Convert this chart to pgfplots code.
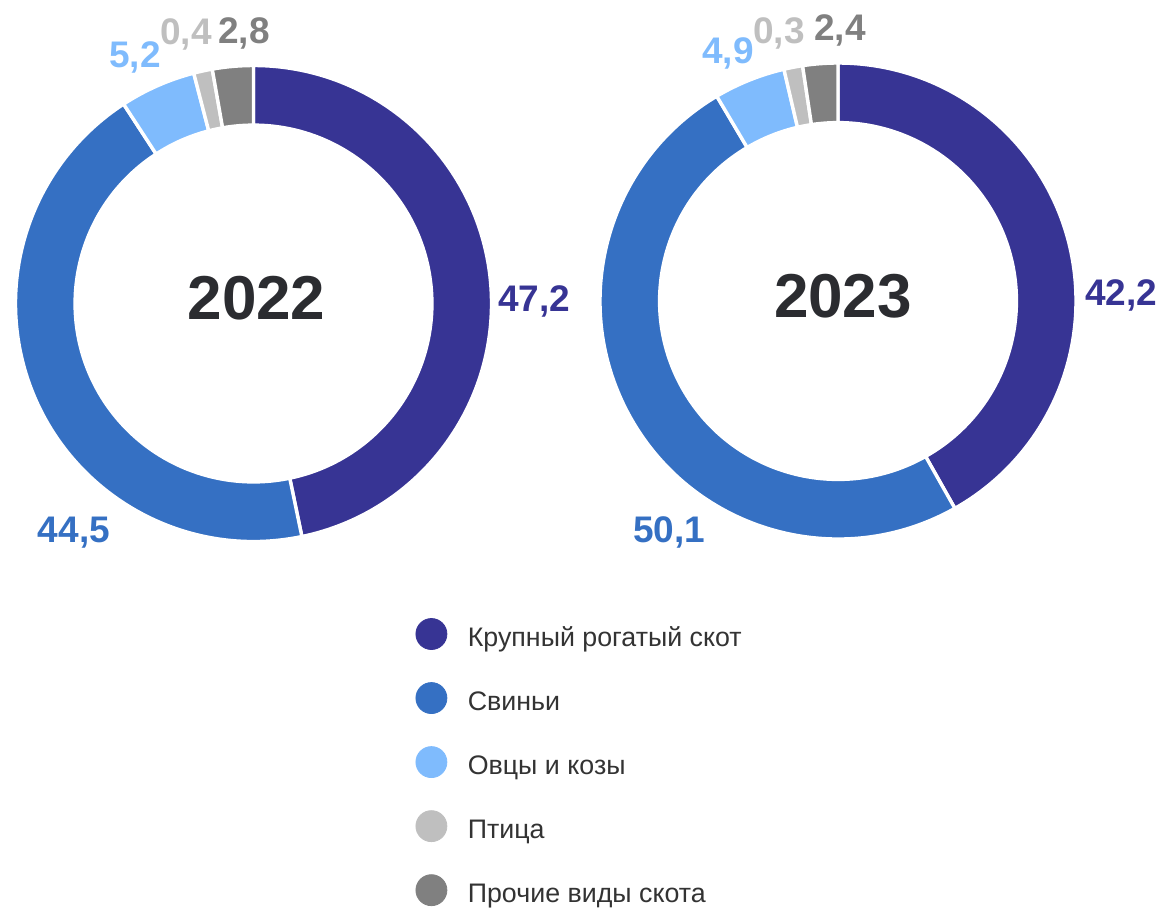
\documentclass[border=0pt]{standalone}
\usepackage{pgfplots}
\usepackage{pgfplotstable}
\pgfplotsset{compat=1.18}
\usepackage{fontspec}
\setmainfont{Liberation Sans}

\definecolor{c0}{HTML}{373494}
\definecolor{c1}{HTML}{3570C3}
\definecolor{c2}{HTML}{7FBBFD}
\definecolor{c3}{HTML}{BFBFBF}
\definecolor{c4}{HTML}{808080}
\definecolor{ctext}{HTML}{2B2C30}
\definecolor{clegend}{HTML}{333333}

% shares, percent
\pgfplotstableread{
kind  y2022 y2023
krs   47.2  42.2
svin  44.5  50.1
ovts  5.2   4.9
ptica 0.4   0.3
proch 2.8   2.4
}\shares

% tiny slices are shown at a minimum width, as in the original chart
\def\minshare{1.28}
% start/end angles of every slice, clockwise from the top
\newcommand\computeangles[2]{%
  \xdef\tot{0}%
  \pgfplotstableforeachcolumnelement{#1}\of\shares\as\val{%
    \pgfmathsetmacro\t{\tot+max(\val,\minshare)}\xdef\tot{\t}}%
  \xdef\cum{0}%
  \pgfplotstableforeachcolumnelement{#1}\of\shares\as\val{%
    \pgfmathsetmacro\sa{90-360*(\cum/\tot)}%
    \pgfmathsetmacro\c{\cum+max(\val,\minshare)}%
    \pgfmathsetmacro\ea{90-360*(\c/\tot)}%
    \expandafter\xdef\csname #2s\pgfplotstablerow\endcsname{\sa}%
    \expandafter\xdef\csname #2e\pgfplotstablerow\endcsname{\ea}%
    \xdef\cum{\c}%
  }%
}

\def\Ro{119pt}
\def\Ri{89.2pt}
% #1 cx, #2 cy, #3 prefix, #4 row
\newcommand\slice[4]{%
  \fill[c#4, draw=white, line width=1.7pt]
    ([shift={(\csname #3s#4\endcsname:\Ro)}]axis cs:#1,#2)
    arc[start angle=\csname #3s#4\endcsname, end angle=\csname #3e#4\endcsname, radius=\Ro]
    -- ([shift={(\csname #3e#4\endcsname:\Ri)}]axis cs:#1,#2)
    arc[start angle=\csname #3e#4\endcsname, end angle=\csname #3s#4\endcsname, radius=\Ri]
    -- cycle;}

\begin{document}
\computeangles{y2022}{A}%
\computeangles{y2023}{B}%
\begin{tikzpicture}
\begin{axis}[
  width=580pt, height=453.5pt, scale only axis,
  xmin=0, xmax=1160, ymin=0, ymax=907, y dir=reverse,
  hide axis, clip=false,
  legend cell align=left,
  legend style={
    draw=none, fill=none, inner sep=0pt, outer sep=0pt,
    at={(axis cs:415.5,616)}, anchor=north west,
    font=\fontsize{13.4}{15}\selectfont, text=clegend,
    nodes={inner sep=0pt, text height=15pt, text depth=3pt},
    row sep=14.02pt, column sep=0pt,
    /tikz/every odd column/.append style={column sep=10.25pt},
  },
]
\pgfplotsinvokeforeach{0,...,4}{\slice{253.5}{303.5}{A}{#1}}
\pgfplotsinvokeforeach{0,...,4}{\slice{838}{301}{B}{#1}}

\node[font=\fontsize{31}{34}\selectfont\bfseries, text=ctext, inner sep=0pt, text depth=0pt] at (axis cs:256.5,297.5) {2022};
\node[font=\fontsize{31}{34}\selectfont\bfseries, text=ctext, inner sep=0pt, text depth=0pt] at (axis cs:843,296) {2023};

\tikzset{lab/.style={font=\fontsize{18.5}{20}\selectfont\bfseries, inner sep=0pt, text depth=0pt}}
\node[lab, text=c0] at (axis cs:534,299) {47,2};
\node[lab, text=c1] at (axis cs:74,530) {44,5};
\node[lab, text=c2] at (axis cs:135,55) {5,2};
\node[lab, text=c3] at (axis cs:186,32) {0,4};
\node[lab, text=c4] at (axis cs:244,31) {2,8};
\node[lab, text=c0] at (axis cs:1121,293) {42,2};
\node[lab, text=c1] at (axis cs:669,530) {50,1};
\node[lab, text=c2] at (axis cs:728,51) {4,9};
\node[lab, text=c3] at (axis cs:779,31) {0,3};
\node[lab, text=c4] at (axis cs:840,28) {2,4};

\addlegendimage{legend image code/.code={\fill[c0] (0pt,0pt) circle[radius=7.75pt];}}
\addlegendentry{Крупный рогатый скот}
\addlegendimage{legend image code/.code={\fill[c1] (0pt,0pt) circle[radius=7.75pt];}}
\addlegendentry{Свиньи}
\addlegendimage{legend image code/.code={\fill[c2] (0pt,0pt) circle[radius=7.75pt];}}
\addlegendentry{Овцы и козы}
\addlegendimage{legend image code/.code={\fill[c3] (0pt,0pt) circle[radius=7.75pt];}}
\addlegendentry{Птица}
\addlegendimage{legend image code/.code={\fill[c4] (0pt,0pt) circle[radius=7.75pt];}}
\addlegendentry{Прочие виды скота}

\coordinate (BL) at (axis cs:0,907);
\coordinate (TR) at (axis cs:1160,0);
\end{axis}
\pgfresetboundingbox
\path[use as bounding box] (BL) rectangle (TR);
\end{tikzpicture}%
\end{document}
